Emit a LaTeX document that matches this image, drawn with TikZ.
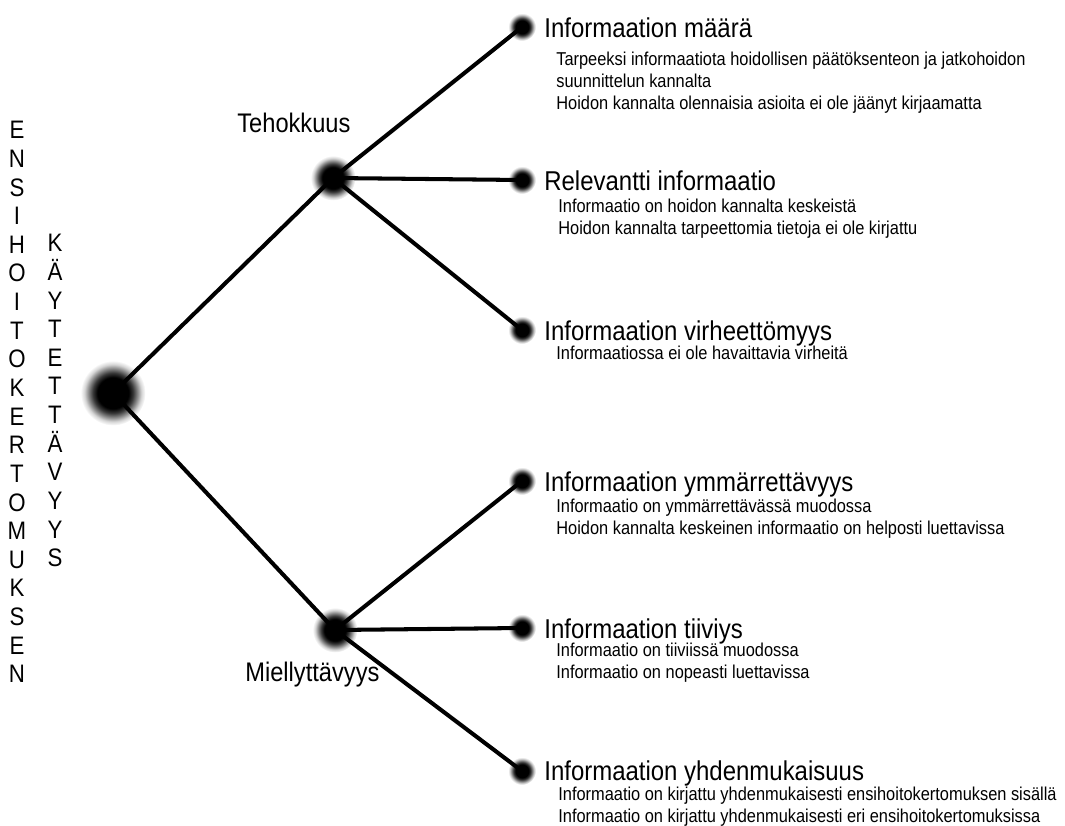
\documentclass[tikz,border=0pt]{standalone}
\usepackage{fontspec}
\setmainfont[FakeStretch=0.88]{Liberation Sans}
\pgfdeclareradialshading{blurdot}{\pgfpointorigin}{%
  color(0bp)=(black); color(12bp)=(black); color(15.5bp)=(black!78);
  color(19bp)=(black!45); color(22bp)=(black!16); color(25bp)=(white)}

\begin{document}
\begin{tikzpicture}[
    x=0.02cm, y=-0.02cm,
    dot/.style={circle, inner sep=0pt, shading=blurdot},
    rootdot/.style={dot, minimum size=1.3cm},
    middot/.style={dot, minimum size=0.9cm},
    leafdot/.style={dot, minimum size=0.56cm},
    branch/.style={line width=2.3pt, line cap=round},
    level/.style={font=\fontsize{15.3}{18}\selectfont, anchor=base west, inner sep=0pt},
    title/.style={font=\fontsize{15.5}{18}\selectfont, anchor=base west, inner sep=0pt},
    detail/.style={font=\fontsize{10.6}{12.5}\selectfont, anchor=north west, inner sep=0pt, align=left},
    vert/.style={font=\fontsize{14.4}{16.3}\selectfont, anchor=north, inner sep=0pt, align=center},
  ]

  \useasboundingbox (0,0) rectangle (1065,825);

  % ---------- dots
  \node[rootdot] (root) at (113,393) {};
  \node[middot] (teho) at (333,178) {};
  \node[middot] (miel) at (335,630) {};
  \node[leafdot] (maara) at (522,27) {};
  \node[leafdot] (relev) at (522,180) {};
  \node[leafdot] (virhe) at (522,330) {};
  \node[leafdot] (ymmar) at (522,481) {};
  \node[leafdot] (tiivi) at (522,628) {};
  \node[leafdot] (yhden) at (522,771) {};

  % ---------- branches
  \draw[branch] (root.center) -- (teho.center);
  \draw[branch] (root.center) -- (miel.center);
  \foreach \leaf in {maara,relev,virhe}
    \draw[branch] (teho.center) -- (\leaf.center);
  \foreach \leaf in {ymmar,tiivi,yhden}
    \draw[branch] (miel.center) -- (\leaf.center);

  % ---------- vertical heading
  \node[vert] (ensi) at (17,121)
    {E\\N\\S\\I\\H\\O\\I\\T\\O\\K\\E\\R\\T\\O\\M\\U\\K\\S\\E\\N};
  \node[vert] (kayt) at (55,234)
    {K\\Ä\\Y\\T\\E\\T\\T\\Ä\\V\\Y\\Y\\S};

  % ---------- level labels
  \node[level] (tehol) at (237,132) {Tehokkuus};
  \node[level] (miell) at (245,681) {Miellyttävyys};

  % ---------- leaves
  \node[title] (maarat) at (544,37) {Informaation määrä};
  \node[detail] (maarad) at (556,52)
    {Tarpeeksi informaatiota hoidollisen päätöksenteon ja jatkohoidon\\
     suunnittelun kannalta\\
     Hoidon kannalta olennaisia asioita ei ole jäänyt kirjaamatta};

  \node[title] (relevt) at (544,190) {Relevantti informaatio};
  \node[detail] (relevd) at (558,199)
    {Informaatio on hoidon kannalta keskeistä\\
     Hoidon kannalta tarpeettomia tietoja ei ole kirjattu};

  \node[title] (virhet) at (544,340) {Informaation virheettömyys};
  \node[detail] (virhed) at (556,346)
    {Informaatiossa ei ole havaittavia virheitä};

  \node[title] (ymmart) at (544,491) {Informaation ymmärrettävyys};
  \node[detail] (ymmard) at (556,499)
    {Informaatio on ymmärrettävässä muodossa\\
     Hoidon kannalta keskeinen informaatio on helposti luettavissa};

  \node[title] (tiivit) at (544,638) {Informaation tiiviys};
  \node[detail] (tiivid) at (556,643)
    {Informaatio on tiiviissä muodossa\\
     Informaatio on nopeasti luettavissa};

  \node[title] (yhdent) at (544,780) {Informaation yhdenmukaisuus};
  \node[detail] (yhdend) at (558,787)
    {Informaatio on kirjattu yhdenmukaisesti ensihoitokertomuksen sisällä\\
     Informaatio on kirjattu yhdenmukaisesti eri ensihoitokertomuksissa};

\end{tikzpicture}
\end{document}
